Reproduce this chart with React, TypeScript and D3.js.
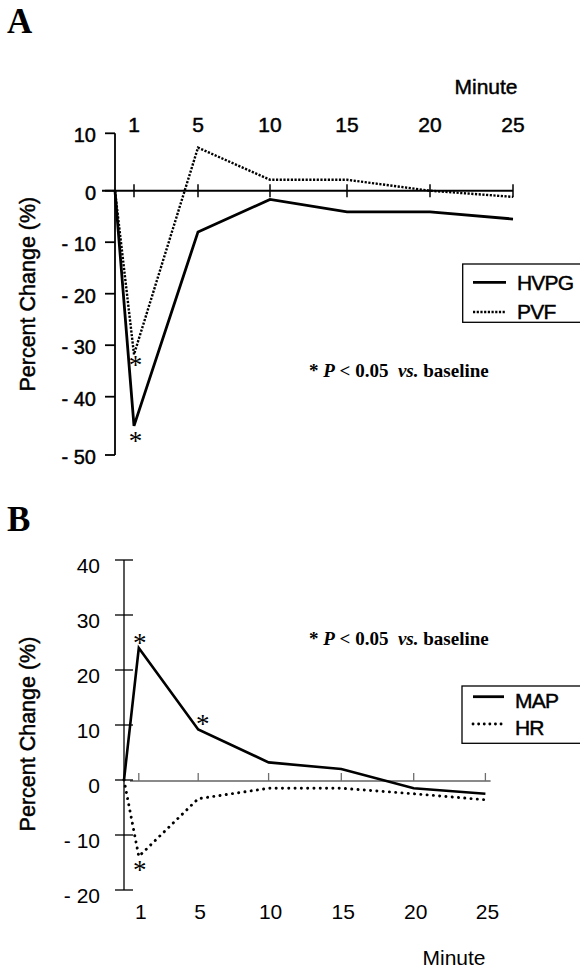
import React from 'react';
import * as d3 from 'd3';

// ---------- data ----------
const minutes = [0, 1, 5, 10, 15, 20, 25];
const tickMinutes = [1, 5, 10, 15, 20, 25];

const hvpg = [0, -45, -8, -1.7, -4.1, -4.1, -5.5];
const pvf = [0, -31.8, 7.5, 1.9, 1.9, 0, -1.2];

const mapValues = [0, 24, 9.2, 3.2, 2.0, -1.5, -2.5];
const hrValues = [0, -13.9, -3.4, -1.5, -1.5, -2.5, -3.6];

const yTicksA = [10, 0, -10, -20, -30, -40, -50];
const yTicksB = [40, 30, 20, 10, 0, -10, -20];

const legendA = ['HVPG', 'PVF'];
const legendB = ['MAP', 'HR'];

// significance markers: [series index, minute, above(-1)/below(+1)]
const sigA: [number, number, number][] = [[1, 1, 1], [0, 1, 1]];
const sigB: [number, number, number][] = [[0, 1, -1], [0, 5, -1], [1, 1, 1]];

const annotation = { star: '* ', p: 'P', lt: ' < 0.05  ', vs: 'vs.', base: ' baseline' };

// ---------- layout / styles ----------
const SANS = "'Liberation Sans', Arial, Helvetica, sans-serif";
const SERIF = "'Liberation Serif', 'Times New Roman', Times, serif";
const HEAVY = { stroke: '#000', strokeWidth: 0.45 };

const fmt = (v: number) => (v < 0 ? `- ${Math.abs(v)}` : `${v}`);

function Annotation({ x, y }: { x: number; y: number }) {
  return (
    <text x={x} y={y} fontFamily={SERIF} fontWeight="bold" fontSize={19}>
      <tspan>{annotation.star}</tspan>
      <tspan fontStyle="italic">{annotation.p}</tspan>
      <tspan xmlSpace="preserve">{annotation.lt}</tspan>
      <tspan fontStyle="italic">{annotation.vs}</tspan>
      <tspan>{annotation.base}</tspan>
    </text>
  );
}

function Star({ x, y }: { x: number; y: number }) {
  // y = visual centre of asterisk
  return (
    <text x={x} y={y + 12.5} textAnchor="middle" fontFamily={SERIF} fontSize={27}>
      *
    </text>
  );
}

function PanelA() {
  const x = d3.scaleLinear().domain(minutes).range([115, 134, 198, 270, 347, 430, 513]);
  const y = d3.scaleLinear().domain([-50, -40, 0, 10]).range([455, 396.7, 190.7, 133.3]);
  const line = d3
    .line<number>()
    .x((_, i) => x(minutes[i]))
    .y((d) => y(d));
  const series = [hvpg, pvf];
  return (
    <g>
      <text x={7} y={33} fontFamily={SERIF} fontWeight="bold" fontSize={35}>
        A
      </text>
      <text x={486} y={94} textAnchor="middle" fontFamily={SANS} fontSize={21} {...HEAVY}>
        Minute
      </text>
      {tickMinutes.map((m) => (
        <text key={m} x={x(m)} y={131.5} textAnchor="middle" fontFamily={SANS} fontSize={21} {...HEAVY}>
          {m}
        </text>
      ))}
      <line x1={x(0)} x2={x(0)} y1={y(10)} y2={y(-50)} stroke="#000" strokeWidth={1.8} />
      {yTicksA.map((t) => (
        <g key={t}>
          <line x1={x(0) - 10} x2={x(0)} y1={y(t)} y2={y(t)} stroke="#000" strokeWidth={1.8} />
          <text x={96} y={y(t) + 9} textAnchor="end" fontFamily={SANS} fontSize={20} {...HEAVY}>
            {fmt(t)}
          </text>
        </g>
      ))}
      <line x1={102} x2={x(25)} y1={y(0)} y2={y(0)} stroke="#000" strokeWidth={2} />
      {tickMinutes.map((m) => (
        <line key={m} x1={x(m)} x2={x(m)} y1={y(0) - 6.5} y2={y(0) + 6.5} stroke="#000" strokeWidth={1.5} />
      ))}
      <text
        transform={`translate(35,${(y(10) + y(-50)) / 2}) rotate(-90)`}
        textAnchor="middle"
        fontFamily={SANS}
        fontSize={21.5}
        {...HEAVY}
      >
        Percent Change (%)
      </text>
      <path d={line(pvf) || ''} fill="none" stroke="#000" strokeWidth={2.4} strokeDasharray="2.2,1.5" />
      <path d={line(hvpg) || ''} fill="none" stroke="#000" strokeWidth={2.8} />
      {sigA.map(([s, m, dir], i) => {
        const v = series[s][minutes.indexOf(m)];
        return <Star key={i} x={x(m) + 1.5} y={y(v) + dir * (s === 0 ? 12 : 7)} />;
      })}
      <rect x={462.7} y={264} width={200} height={58.3} fill="#fff" stroke="#000" strokeWidth={1.3} />
      {legendA.map((name, i) => (
        <g key={name}>
          <line
            x1={473}
            x2={506}
            y1={282.3 + i * 29.7}
            y2={282.3 + i * 29.7}
            stroke="#000"
            strokeWidth={i === 0 ? 2.8 : 2.4}
            strokeDasharray={i === 0 ? undefined : '2.2,1.5'}
          />
          <text x={517} y={289.5 + i * 29.7} fontFamily={SANS} fontSize={21} letterSpacing={-0.8} {...HEAVY}>
            {name}
          </text>
        </g>
      ))}
      <Annotation x={309} y={377} />
    </g>
  );
}

function PanelB() {
  const x = d3.scaleLinear().domain(minutes).range([124, 138.8, 198.2, 268.6, 341.3, 413.7, 485.4]);
  const y = d3.scaleLinear().domain([-20, 40]).range([890, 560]);
  const line = d3
    .line<number>()
    .x((_, i) => x(minutes[i]))
    .y((d) => y(d));
  const series = [mapValues, hrValues];
  return (
    <g>
      <text x={7} y={531} fontFamily={SERIF} fontWeight="bold" fontSize={35}>
        B
      </text>
      <line x1={130} x2={490.6} y1={y(0) + 1} y2={y(0) + 1} stroke="#8a8a8a" strokeWidth={2.2} />
      {tickMinutes.map((m) => (
        <line key={m} x1={x(m)} x2={x(m)} y1={y(0) - 7} y2={y(0) + 1} stroke="#6e6e6e" strokeWidth={1.3} />
      ))}
      <line x1={x(0)} x2={x(0)} y1={y(40)} y2={y(-20)} stroke="#000" strokeWidth={1.3} />
      {yTicksB.map((t) => (
        <g key={t}>
          <line x1={x(0) - 9} x2={x(0) + 9} y1={y(t)} y2={y(t)} stroke="#000" strokeWidth={1.3} />
          <text x={100} y={y(t) + 13} textAnchor="end" fontFamily={SANS} fontSize={21}>
            {fmt(t)}
          </text>
        </g>
      ))}
      {tickMinutes.map((m) => (
        <text key={m} x={x(m) + 2} y={918.5} textAnchor="middle" fontFamily={SANS} fontSize={21}>
          {m}
        </text>
      ))}
      <text x={454} y={965} textAnchor="middle" fontFamily={SANS} fontSize={21}>
        Minute
      </text>
      <text
        transform={`translate(35,734) rotate(-90)`}
        textAnchor="middle"
        fontFamily={SANS}
        fontSize={21.5}
        {...HEAVY}
      >
        Percent Change (%)
      </text>
      <path
        d={line(hrValues) || ''}
        fill="none"
        stroke="#000"
        strokeWidth={2.9}
        strokeDasharray="0.1,6.2"
        strokeLinecap="round"
      />
      <path d={line(mapValues) || ''} fill="none" stroke="#000" strokeWidth={2.6} />
      {sigB.map(([s, m, dir], i) => {
        const v = series[s][minutes.indexOf(m)];
        return <Star key={i} x={x(m) + (m === 5 ? 4.5 : 1)} y={y(v) + dir * (dir < 0 ? 9 : 10.5)} />;
      })}
      <rect x={462} y={686} width={200} height={57.3} fill="#fff" stroke="#000" strokeWidth={1.3} />
      {legendB.map((name, i) => (
        <g key={name}>
          <line
            x1={473}
            x2={504}
            y1={696.7 + i * 27.3}
            y2={696.7 + i * 27.3}
            stroke="#000"
            strokeWidth={i === 0 ? 2.8 : 2.8}
            strokeDasharray={i === 0 ? undefined : '0.1,5.5'}
            strokeLinecap={i === 0 ? 'butt' : 'round'}
          />
          <text x={515} y={708 + i * 27.3} fontFamily={SANS} fontSize={21} letterSpacing={-0.8} {...HEAVY}>
            {name}
          </text>
        </g>
      ))}
      <Annotation x={309} y={645} />
    </g>
  );
}

export default function App() {
  return (
    <svg
      width={580}
      height={972}
      viewBox="0 0 580 972"
      style={{ position: 'absolute', left: 0, top: 0, background: '#fff', overflow: 'hidden' }}
    >
      <rect x={0} y={0} width={580} height={972} fill="#fff" />
      <PanelA />
      <PanelB />
    </svg>
  );
}
